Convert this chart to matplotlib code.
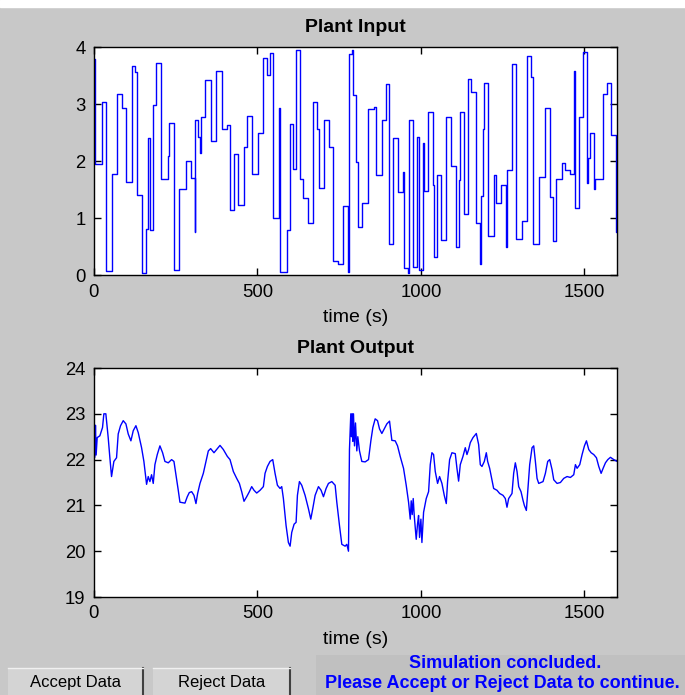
import matplotlib
matplotlib.use('Agg')
import matplotlib.pyplot as plt
from matplotlib.patches import Rectangle

plt.rcParams.update({'font.size': 12, 'font.family': ['Liberation Sans', 'DejaVu Sans']})

# plant input: piecewise constant, (start time, level)
input_t = [
	0, 3.1, 23.6, 36.7, 56, 69.5, 86.6, 98, 117.2, 125.5, 130.7, 147.8, 158.3, 164.4,
	171.4, 181.5, 189.8, 205.1, 227.4, 229.6, 245.8, 261.1, 280.7, 296.9, 308.2, 310.1,
	319.3, 324.5, 327.5, 339.8, 357.2, 372.5, 390.9, 406.2, 417.2, 427.6, 441.7, 460.1,
	468.3, 482.7, 501.1, 515.8, 528.6, 538.7, 548.8, 566.3, 569.3, 589.9, 600, 610.1,
	618.3, 630.6, 640.7, 656, 669.5, 683.5, 688.7, 705, 720.3, 732.5, 747.8, 761.3,
	778.4, 779.6, 789.7, 793.7, 800.8, 807.2, 821.3, 839.6, 855, 863.2, 882.5, 892.9,
	903.9, 916.1, 928.4, 943.7, 949, 960.2, 964.2, 975.5, 987.8, 994.8, 1004.9, 1008,
	1020.2, 1036.2, 1040.7, 1049.9, 1061.3, 1077.5, 1091.9, 1107.2, 1115.1, 1120.3,
	1132.6, 1142.7, 1153.1, 1169.3, 1179.4, 1183.7, 1188.6, 1193.8, 1203.9, 1222.3,
	1230.5, 1244.9, 1260.2, 1263.2, 1278.6, 1291.7, 1309.2, 1324.5, 1336.7, 1342.9,
	1362.1, 1380.5, 1393.7, 1404.1, 1413.3, 1431.6, 1441.7, 1454.9, 1467.2, 1470.2,
	1482.5, 1495.9, 1508.2, 1510, 1518.3, 1530.5, 1533.6, 1555.9, 1569.4, 1582.5,
	1596.9, 1600,
]
input_u = [
	3.8, 1.95, 3.04, 0.07, 1.78, 3.18, 2.94, 1.63, 3.67, 3.57, 1.40, 0.04, 0.81, 2.41,
	0.79, 2.98, 3.72, 1.68, 2.09, 2.67, 0.09, 1.51, 2.0, 1.71, 0.76, 2.72,
	2.43, 2.15, 2.78, 3.43, 2.36, 3.58, 2.57, 2.64, 1.15, 2.12, 1.24, 2.25,
	2.79, 1.78, 2.49, 3.82, 3.52, 3.90, 1.01, 2.94, 0.05, 0.79, 2.65, 1.87,
	3.96, 1.68, 1.35, 0.91, 3.04, 2.57, 1.53, 2.72, 2.25, 0.25, 0.19, 1.22,
	0.06, 3.88, 3.96, 3.16, 1.99, 0.85, 1.26, 2.91, 2.96, 1.75, 2.72, 3.36,
	0.54, 2.41, 1.46, 1.81, 0.12, 0.04, 2.72, 0.15, 2.42, 0.09, 2.32, 1.47,
	2.87, 1.59, 0.32, 1.75, 0.61, 2.78, 1.91, 0.49, 1.67, 2.87,
	1.08, 3.45, 3.22, 0.92, 0.19, 1.39, 2.57, 3.37, 0.69, 1.75,
	1.27, 1.58, 0.49, 1.84, 3.71, 0.64, 0.95, 3.85, 3.48, 0.54,
	1.72, 2.94, 1.37, 0.60, 1.68, 1.97, 1.84, 1.78, 3.58, 1.18,
	2.78, 3.92, 1.61, 2.06, 2.49, 1.51, 1.68, 3.18, 3.37, 2.46,
	0.76, 0.76,
]

# plant output
output_t = [
	0, 3, 5, 7, 10.2, 18.4, 26.5, 30.6, 36.7, 43.9, 49, 54.1, 61.2, 69.4, 74.5, 81.6,
	89.8, 98, 105.1, 113.3, 120.4, 128.6, 135.7, 145.9, 153, 161.2, 166.3, 171.4,
	176.5, 181.6, 186.7, 193.9, 202, 210.2, 217.3, 227.5, 237.7, 244.9, 251, 258.1,
	263.2, 278.5, 285.7, 291.8, 299, 306.1, 312.2, 317.3, 324.5, 334.7, 342.8, 350,
	357.1, 367.3, 375.5, 385.7, 395.9, 408.1, 416.3, 426.5, 436.7, 444.9, 452, 459.1,
	467.3, 475.5, 482.6, 489.7, 497.9, 508.1, 518.3, 523.4, 530.6, 538.7, 546.9, 554,
	561.2, 569.3, 574.4, 579.5, 587.7, 594.8, 600, 605, 612.2, 618.3, 622.4, 628.5,
	635.6, 645.8, 656, 663.2, 669.3, 676.5, 686.7, 694.8, 702, 710.1, 717.3, 727.5,
	737.7, 742.8, 751, 758.1, 768.3, 773.4, 778.5, 781.5, 783.6, 785.6, 787.7, 789.7,
	791.8, 793.8, 796.9, 800, 804, 807, 812.2, 819.3, 829.5, 839.7, 846.9, 853,
	860.1, 867.3, 873.4, 880.5, 887.7, 895.8, 904, 911.1, 921.3, 928.5, 936.6, 946.8,
	955, 962.2, 967.3, 970.3, 973.4, 976.4, 979.5, 985.6, 989.7, 992.8, 995.8, 999.9,
	1003, 1008.1, 1016.2, 1023.4, 1028.5, 1033.6, 1038.7, 1043.8, 1050.9, 1057,
	1064.2, 1071.3, 1077.5, 1081.5, 1087.7, 1094.8, 1105, 1110.1, 1115.2, 1120.3,
	1128.5, 1135.6, 1140.7, 1145.8, 1150.9, 1159.1, 1169.3, 1176.4, 1181.5, 1186.6,
	1193.8, 1199.9, 1204, 1210.1, 1217.2, 1222.3, 1232.5, 1240.7, 1250.9, 1258,
	1263.1, 1268.2, 1278.4, 1283.5, 1288.6, 1293.8, 1298.9, 1306, 1312.1, 1316.2,
	1322.3, 1326.4, 1332.5, 1339.7, 1344.8, 1349.9, 1355, 1360.1, 1373.3, 1380.5,
	1387.6, 1393.7, 1400.9, 1406, 1416.2, 1426.4, 1436.6, 1446.8, 1457, 1467.2,
	1472.3, 1477.4, 1485.6, 1492.7, 1499.9, 1506, 1513.1, 1520.3, 1528.4, 1536.6,
	1543.7, 1550.9, 1557, 1564.1, 1571.3, 1579.4, 1589.6, 1600,
]
output_y = [
	22.8, 22.05, 22.75, 22.1, 22.48, 22.52, 22.7, 23.0, 23.0, 22.48, 22.04, 21.63, 21.96, 22.04, 22.56, 22.74,
	22.85, 22.78, 22.56, 22.41, 22.63, 22.74, 22.59, 22.26, 21.96, 21.46, 21.63, 21.52,
	21.67, 21.48, 21.89, 22.11, 22.30, 22.15, 21.96, 21.93, 22.0, 21.96, 21.67, 21.33,
	21.07, 21.05, 21.19, 21.28, 21.3, 21.22, 21.04, 21.26, 21.48, 21.7, 21.96, 22.19,
	22.24, 22.15, 22.22, 22.31, 22.22, 22.07, 22.0, 21.74, 21.59, 21.48, 21.30, 21.09,
	21.19, 21.3, 21.41, 21.33, 21.27, 21.33, 21.41, 21.7, 21.85, 21.96, 22.0, 21.7,
	21.44, 21.37, 21.41, 21.15, 20.56, 20.19, 20.11, 20.41, 20.59, 20.63, 21.22, 21.52,
	21.44, 21.22, 20.93, 20.7, 20.93, 21.22, 21.41, 21.33, 21.19, 21.37, 21.48, 21.52,
	21.44, 21.07, 20.56, 20.15, 20.11, 20.15, 20.0, 22.22, 22.6, 23.0, 22.5, 23.0,
	22.4, 23.0, 22.3, 22.8, 22.19, 22.5, 22.19, 21.96, 21.95, 22.0, 22.41, 22.7,
	22.89, 22.85, 22.67, 22.57, 22.67, 22.78, 22.84, 22.42, 22.41, 22.3, 22.07, 21.81,
	21.44, 21.07, 20.7, 21.1, 20.8, 21.15, 20.78, 20.26, 20.6, 20.78, 20.3, 20.7,
	20.19, 20.85, 21.15, 21.3, 21.89, 22.15, 22.11, 21.74, 21.48, 21.63,
	21.48, 21.22, 21.04, 21.52, 22.0, 22.15, 22.13, 21.81, 21.53, 21.89,
	22.07, 22.26, 22.11, 22.22, 22.37, 22.48, 22.57, 22.33, 21.89, 21.85,
	21.96, 22.15, 21.96, 21.81, 21.56, 21.37, 21.33, 21.26, 21.22, 21.15,
	20.96, 21.15, 21.26, 21.7, 21.93, 21.74, 21.41, 21.3, 21.11, 21.0,
	20.89, 21.3, 21.89, 22.26, 22.3, 21.96, 21.59, 21.48, 21.52, 21.7,
	21.96, 22.0, 21.78, 21.56, 21.48, 21.5, 21.59, 21.63, 21.61, 21.67,
	21.89, 21.81, 21.89, 22.11, 22.3, 22.41, 22.22, 22.15, 22.11, 22.04,
	21.85, 21.7, 21.81, 21.93, 22.0, 22.05, 22.0, 21.96,
]

bg = '#c8c8c8'
fig = plt.figure(figsize=(6.85, 6.95), dpi=100, facecolor=bg)
# white strip along the top of the window
fig.patches.append(Rectangle((0, 0.99), 1, 0.01, transform=fig.transFigure, color='white', zorder=0))


def style(ax, ylim, yticks, title):
	ax.set_xlim(0, 1600)
	ax.set_ylim(*ylim)
	ax.set_xticks([0, 500, 1000, 1500])
	ax.set_yticks(yticks)
	ax.tick_params(direction='in', top=True, right=True, length=5, width=1, labelsize=13.3, pad=6)
	for s in ax.spines.values():
		s.set_linewidth(1)
	ax.set_title(title, fontweight='bold', fontsize=14, pad=11)
	ax.set_xlabel('time (s)', fontsize=14, labelpad=6)


ax1 = fig.add_axes([0.137, 0.604, 0.764, 0.328])
ax1.step(input_t, input_u, where='post', color='#0000ff', lw=1)
style(ax1, (0, 4), [0, 1, 2, 3, 4], 'Plant Input')

ax2 = fig.add_axes([0.137, 0.141, 0.764, 0.3295])
ax2.plot(output_t, output_y, color='#0000ff', lw=1)
style(ax2, (19, 24), [19, 20, 21, 22, 23, 24], 'Plant Output')

# buttons
for x0, w, label in [(8, 135, 'Accept Data'), (153, 137, 'Reject Data')]:
	fig.patches.append(Rectangle((x0 / 685, 0), w / 685, 27 / 695, transform=fig.transFigure,
		facecolor='#d4d4d4', edgecolor='none'))
	fig.lines.append(plt.Line2D([(x0 + w) / 685] * 2, [0, 27 / 695], transform=fig.transFigure, color='#404040', lw=1.5))
	fig.lines.append(plt.Line2D([x0 / 685, (x0 + w) / 685], [27 / 695] * 2, transform=fig.transFigure, color='#f0f0f0', lw=1))
	fig.text((x0 + w / 2) / 685, 13 / 695, label, ha='center', va='center', fontsize=12)

# status panel
fig.patches.append(Rectangle((316 / 685, 0), 369 / 685, 40 / 695, transform=fig.transFigure,
	facecolor='#c0c0c0', edgecolor='none'))
fig.text(505 / 685, 32 / 695, 'Simulation concluded.', ha='center', va='center',
	color='#0000ff', fontweight='bold', fontsize=13)
fig.text(502 / 685, 11 / 695, 'Please Accept or Reject Data to continue.', ha='center', va='center',
	color='#0000ff', fontweight='bold', fontsize=13)

fig.savefig('out.png', dpi=100, facecolor=bg)
